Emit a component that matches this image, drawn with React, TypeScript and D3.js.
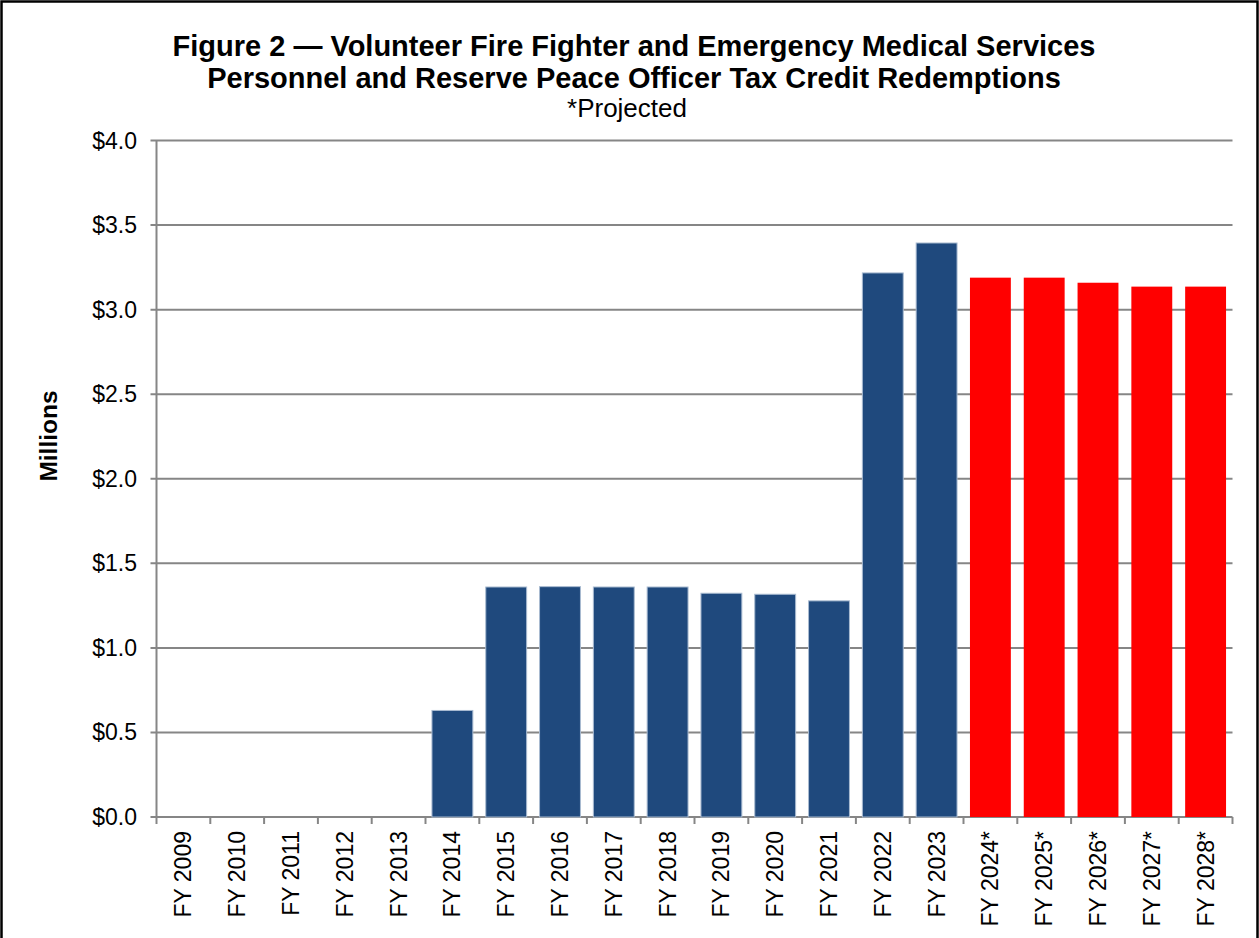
import React from 'react';
import * as d3 from 'd3';

const years = ['FY 2009', 'FY 2010', 'FY 2011', 'FY 2012', 'FY 2013', 'FY 2014', 'FY 2015', 'FY 2016', 'FY 2017', 'FY 2018',
  'FY 2019', 'FY 2020', 'FY 2021', 'FY 2022', 'FY 2023', 'FY 2024*', 'FY 2025*', 'FY 2026*', 'FY 2027*', 'FY 2028*'];
// millions of dollars
const redemptions = [0, 0, 0, 0, 0, 0.63, 1.36, 1.362, 1.36, 1.36,
  1.323, 1.317, 1.278, 3.217, 3.394, 3.189, 3.189, 3.159, 3.136, 3.136];
const projected = [false, false, false, false, false, false, false, false, false, false,
  false, false, false, false, false, true, true, true, true, true];
const yTicks = [0, 0.5, 1, 1.5, 2, 2.5, 3, 3.5, 4];

const titleLines = [
  'Figure 2 \u2014 Volunteer Fire Fighter and Emergency Medical Services',
  'Personnel and Reserve Peace Officer Tax Credit Redemptions',
];

export default function App() {
  const W = 1259, H = 938;
  const left = 156.5, right = 1232.5, top = 140.5, bottom = 817;
  const font = 'Arial, "Liberation Sans", sans-serif';

  const x = d3.scaleBand().domain(years).range([left, right]).paddingInner(0.24).paddingOuter(0.12);
  const y = d3.scaleLinear().domain([0, 4]).range([bottom, top]);
  const step = (right - left) / years.length;

  return (
    <svg width={W} height={H} style={{ position: 'absolute', left: 0, top: 0, background: '#fff' }} fontFamily={font}>
      <rect x={1.5} y={1.5} width={W - 3} height={H + 20} fill="#fff" stroke="#000" strokeWidth={2.5} />
      {titleLines.map((t, i) => (
        <text key={t} x={634} y={55.5 + i * 32} textAnchor="middle" fontSize={29} fontWeight="bold">{t}</text>
      ))}
      <text x={627} y={117} textAnchor="middle" fontSize={26}>*Projected</text>

      {yTicks.map(v => (
        <g key={v}>
          <line x1={left - 6} x2={right} y1={y(v)} y2={y(v)} stroke="#868686" strokeWidth={2} />
          <text x={137} y={y(v)} dy="0.35em" textAnchor="end" fontSize={23}>{'$' + v.toFixed(1)}</text>
        </g>
      ))}
      <line x1={left} x2={left} y1={top} y2={bottom} stroke="#868686" strokeWidth={2} />
      {d3.range(years.length + 1).map(i => (
        <line key={i} x1={left + i * step} x2={left + i * step} y1={bottom} y2={bottom + 7} stroke="#868686" strokeWidth={2} />
      ))}

      {years.map((c, i) => redemptions[i] > 0 && (
        <rect key={c} x={x(c)} y={y(redemptions[i])} width={x.bandwidth()} height={bottom - y(redemptions[i])}
          fill={projected[i] ? '#ff0000' : '#1f497d'}
          stroke={projected[i] ? 'none' : '#a9bbd1'} strokeWidth={1} />
      ))}

      {years.map(c => {
        const cx = (x(c) as number) + x.bandwidth() / 2;
        return (
          <text key={c} transform={`translate(${cx},${831}) rotate(-90)`} dy="0.35em" textAnchor="end" fontSize={23}>{c}</text>
        );
      })}

      <text transform="translate(48,436) rotate(-90)" dy="0.35em" textAnchor="middle" fontSize={24.5} fontWeight="bold">Millions</text>
    </svg>
  );
}
